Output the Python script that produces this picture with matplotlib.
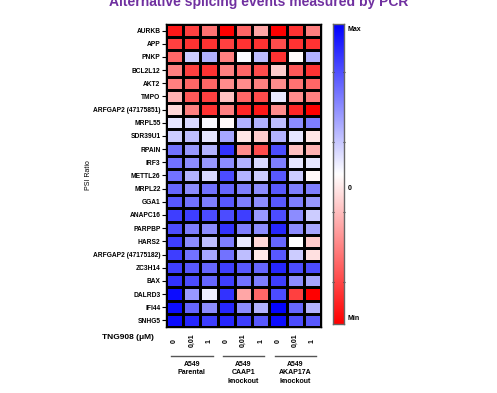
import numpy as np
import matplotlib
matplotlib.use("Agg")
import matplotlib.pyplot as plt
from matplotlib.colors import LinearSegmentedColormap

plt.rcParams['font.family'] = ['Liberation Sans', 'DejaVu Sans']

genes = ['AURKB', 'APP', 'PNKP', 'BCL2L12', 'AKT2', 'TMPO', 'ARFGAP2 (47175851)',
         'MRPL55', 'SDR39U1', 'RPAIN', 'IRF3', 'METTL26', 'MRPL22', 'GGA1',
         'ANAPC16', 'PARPBP', 'HARS2', 'ARFGAP2 (47175182)', 'ZC3H14', 'BAX',
         'DALRD3', 'IFI44', 'SNHG5']
doses = ['0', '0,01', '1']
groups = ['A549\nParental', 'A549\nCAAP1\nknockout', 'A549\nAKAP17A\nknockout']

# scaled PSI ratio, -1 = Min (red), 1 = Max (blue)
psi = [
    [-0.90, -0.75, -0.55, -1.00, -0.60, -0.35, -1.00, -0.80, -0.50],
    [-0.75, -0.80, -0.80, -0.75, -0.80, -0.80, -0.70, -0.80, -0.80],
    [-0.60, 0.20, 0.30, -0.50, 0.02, 0.25, -0.80, -0.02, 0.30],
    [-0.50, -0.75, -0.80, -0.50, -0.60, -0.70, -0.20, -0.65, -0.80],
    [-0.50, -0.60, -0.60, -0.45, -0.45, -0.50, -0.45, -0.55, -0.60],
    [-0.30, -0.65, -0.75, -0.25, -0.60, -0.70, 0.08, -0.45, -0.50],
    [-0.15, -0.50, -0.80, -0.50, -0.85, -0.90, -0.45, -0.85, -1.00],
    [0.10, 0.15, 0.03, -0.03, 0.30, 0.30, 0.25, 0.45, 0.50],
    [0.20, 0.25, 0.10, 0.35, -0.10, -0.20, 0.30, 0.10, -0.10],
    [0.55, 0.40, 0.30, 0.80, -0.45, -0.70, 0.70, -0.25, -0.30],
    [0.55, 0.45, 0.40, 0.45, 0.30, 0.15, 0.50, 0.10, 0.10],
    [0.55, 0.30, 0.15, 0.70, 0.30, 0.20, 0.65, 0.20, -0.03],
    [0.60, 0.45, 0.55, 0.60, 0.50, 0.45, 0.65, 0.50, 0.50],
    [0.65, 0.55, 0.50, 0.65, 0.50, 0.45, 0.65, 0.50, 0.40],
    [0.75, 0.75, 0.70, 0.70, 0.75, 0.40, 0.70, 0.45, 0.20],
    [0.70, 0.50, 0.45, 0.80, 0.50, 0.45, 0.85, 0.45, 0.35],
    [0.75, 0.45, 0.25, 0.50, 0.08, -0.15, 0.60, 0.00, -0.20],
    [0.75, 0.55, 0.35, 0.55, 0.25, -0.08, 0.65, 0.20, -0.12],
    [0.75, 0.65, 0.60, 0.75, 0.65, 0.60, 0.85, 0.70, 0.70],
    [0.80, 0.70, 0.60, 0.75, 0.55, 0.50, 0.75, 0.45, 0.35],
    [0.95, 0.40, 0.07, 0.80, -0.35, -0.60, 0.70, -0.75, -1.00],
    [0.95, 0.60, 0.45, 0.85, 0.45, 0.30, 0.98, 0.60, 0.30],
    [0.95, 0.85, 0.75, 0.85, 0.75, 0.65, 0.95, 0.70, 0.65],
]

cmap = LinearSegmentedColormap.from_list('rwb', ['#ff0000', '#ffffff', '#0000ff'])

fig = plt.figure(figsize=(4.97, 3.93), dpi=100)
ax = fig.add_axes([0.334, 0.168, 0.312, 0.771])
mesh = ax.pcolormesh(np.array(psi), cmap=cmap, vmin=-1, vmax=1,
                     edgecolors='black', linewidth=0.9)
ax.set_xlim(0, 9)
ax.set_ylim(len(genes), 0)
ax.set_yticks(np.arange(len(genes)) + 0.5)
ax.set_yticklabels(genes, fontsize=4.8, fontweight='bold')
ax.tick_params(axis='y', length=3, width=0.8, pad=1)
ax.set_xticks([])
for s in ax.spines.values():
    s.set_linewidth(1.0)
fig.text(88 / 497, 1 - 175 / 393, 'PSI Ratio', rotation=90,
         ha='center', va='center', fontsize=5)

# dose labels under columns
for i in range(9):
    ax.text(i + 0.5, -0.045, doses[i % 3], transform=ax.get_xaxis_transform(),
            rotation=90, ha='center', va='center', fontsize=5, fontweight='bold')
ax.text(-0.245, -0.035, 'TNG908 (\u03bcM)', transform=ax.transAxes,
        ha='center', va='center', fontsize=6, fontweight='bold')

# group lines and labels
for g, name in enumerate(groups):
    x0 = g * 3 + 0.3
    x1 = g * 3 + 2.7
    ax.plot([x0, x1], [-0.095, -0.095], color='#555555', lw=1.0,
            transform=ax.get_xaxis_transform(), clip_on=False)
    ax.text(g * 3 + 1.5, -0.112, name, transform=ax.get_xaxis_transform(),
            ha='center', va='top', fontsize=5, fontweight='bold', linespacing=1.3)

# colorbar as a plain gradient image
cax = fig.add_axes([0.670, 0.176, 0.022, 0.763])
grad = np.linspace(-1, 1, 512).reshape(-1, 1)
cax.imshow(grad, cmap=cmap, vmin=-1, vmax=1, aspect='auto', origin='lower',
           extent=[0, 1, -1, 1], interpolation='bilinear')
cax.set_xticks([])
cax.set_yticks([])
cax.set_yticks([0.68, 0.213, -0.253, -0.72], minor=True)
cax.tick_params(which='minor', direction='inout', length=2, width=0.8,
                left=True, right=True, labelleft=False, color='#333333')
for s in cax.spines.values():
    s.set_linewidth(1.0)
    s.set_color('#666666')
for y, lab in [(0.98, 'Max'), (0.45, '0'), (0.017, 'Min')]:
    cax.text(1.35, y, lab, transform=cax.transAxes, ha='left', va='center',
             fontsize=5, fontweight='bold')

fig.text(0.521, 1 - 6 / 393, 'Alternative splicing events measured by PCR',
         ha='center', va='baseline', fontsize=10, fontweight='bold', color='#7030a0')

fig.savefig('out.png', dpi=100)
